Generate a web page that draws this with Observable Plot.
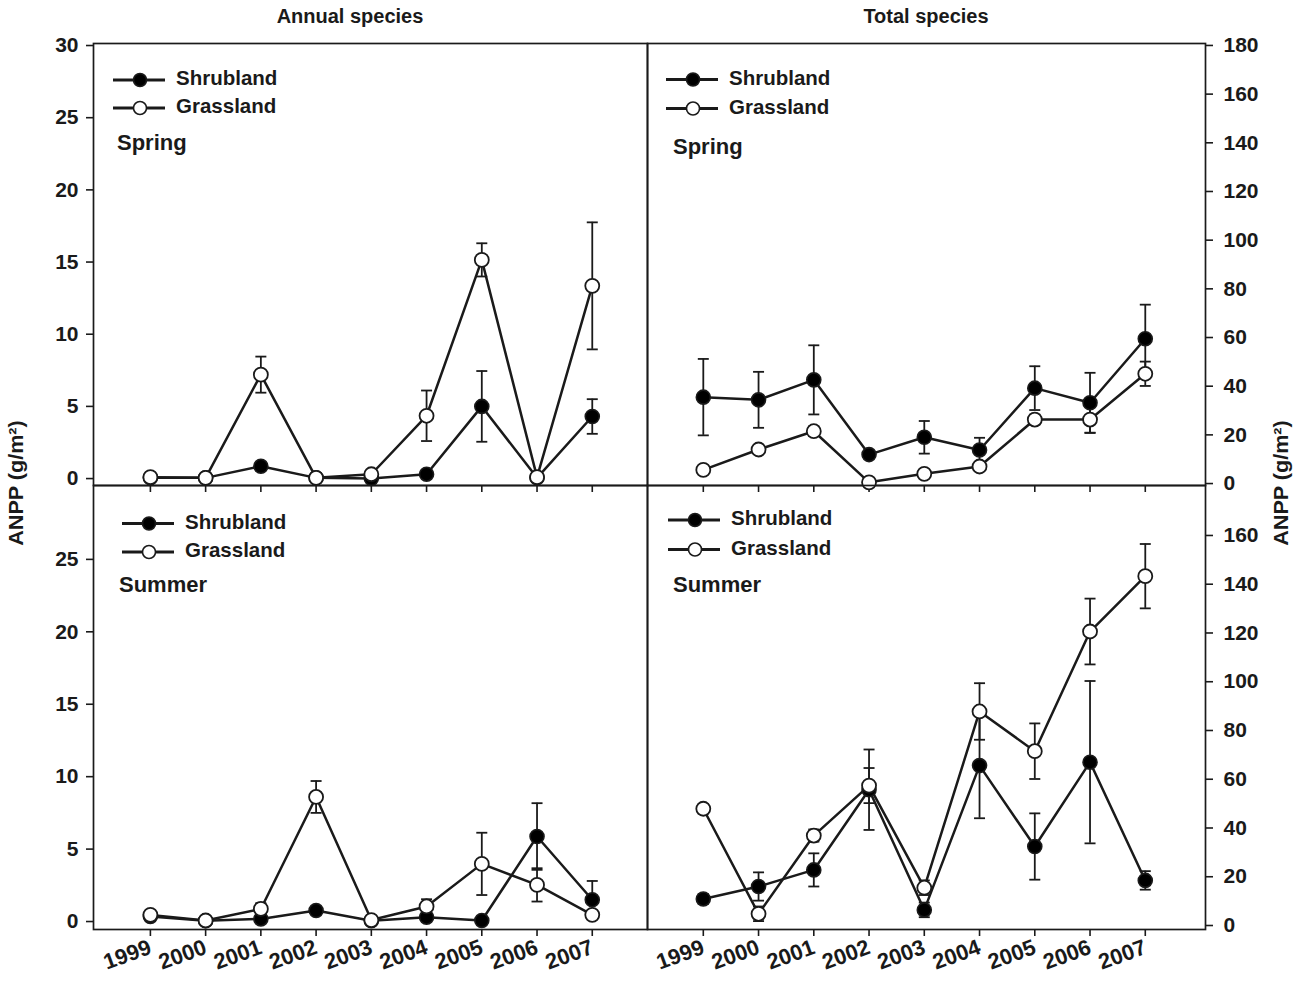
<!DOCTYPE html>
<html><head><meta charset="utf-8">
<script src="https://cdn.jsdelivr.net/npm/d3@7"></script>
<script src="https://cdn.jsdelivr.net/npm/@observablehq/plot@0.6"></script>
<style>
html,body{margin:0;padding:0;background:#fff;}
#chart{position:relative;width:1299px;height:983px;font-family:"Liberation Sans",Arial,sans-serif;color:#111;}
#chart svg{position:absolute;left:0;top:0;overflow:visible;background:transparent;}
</style></head><body><div id="chart"></div>
<script>
// ---------- data ----------
const years = [1999, 2000, 2001, 2002, 2003, 2004, 2005, 2006, 2007];

const annualSpringShrub    = [0.05, 0.05, 0.85, 0.05, 0.0, 0.3, 5.0, 0.05, 4.3];
const annualSpringShrubErr = [0, 0, 0.2, 0, 0, 0, 2.45, 0, 1.2];
const annualSpringGrass    = [0.1, 0.05, 7.2, 0.05, 0.3, 4.35, 15.15, 0.1, 13.35];
const annualSpringGrassErr = [0, 0, 1.25, 0, 0, 1.75, 1.15, 0, 4.4];

const totalSpringShrub    = [35.5, 34.4, 42.6, 11.9, 19.0, 13.8, 39.2, 33.2, 59.5];
const totalSpringShrubErr = [15.7, 11.5, 14.2, 1.5, 6.7, 5.0, 9.0, 12.3, 14.0];
const totalSpringGrass    = [5.6, 14.0, 21.5, 0.5, 4.0, 7.0, 26.3, 26.3, 45.1];
const totalSpringGrassErr = [0, 1.0, 2.0, 0, 0, 0, 2.0, 5.5, 5.0];

const annualSummerShrub    = [0.35, 0.05, 0.18, 0.76, 0.05, 0.3, 0.07, 5.87, 1.5];
const annualSummerShrubErr = [0, 0, 0, 0, 0, 0, 0, 2.3, 1.3];
const annualSummerGrass    = [0.46, 0.07, 0.87, 8.6, 0.1, 1.04, 3.98, 2.53, 0.46];
const annualSummerGrassErr = [0, 0, 0.4, 1.1, 0, 0.5, 2.15, 1.15, 0];

const totalSummerShrub    = [10.9, 16.0, 22.8, 55.7, 6.4, 65.6, 32.4, 67.0, 18.5];
const totalSummerShrubErr = [2.0, 5.8, 6.8, 16.5, 3.0, 21.6, 13.6, 33.3, 3.8];
const totalSummerGrass    = [47.9, 4.8, 36.9, 57.4, 15.5, 87.8, 71.5, 120.6, 143.3];
const totalSummerGrassErr = [2.0, 3.0, 2.5, 7.2, 3.0, 11.6, 11.4, 13.5, 13.2];

const columnTitles = ["Annual species", "Total species"];
const seasonLabels = ["Spring", "Summer"];
const seriesNames = ["Shrubland", "Grassland"];
const yAxisLabel = "ANPP (g/m²)";
const annualTicksTop = [0, 5, 10, 15, 20, 25, 30];
const annualTicksBottom = [0, 5, 10, 15, 20, 25];
const totalTicksTop = [0, 20, 40, 60, 80, 100, 120, 140, 160, 180];
const totalTicksBottom = [0, 20, 40, 60, 80, 100, 120, 140, 160];

// ---------- layout ----------
const W = 1299, H = 983;
const FONT = '"Liberation Sans", Arial, sans-serif';
const INK = "#1a1a1a";

const panels = [
  {shrub: annualSpringShrub, shrubErr: annualSpringShrubErr, grass: annualSpringGrass, grassErr: annualSpringGrassErr,
   box: [93, 43, 647, 485], xd: [1997.97, 2008], yd: [-0.48, 30.14], ticks: annualTicksTop, side: "left", xlabels: false,
   season: seasonLabels[0], leg: {x: 113, y1: 80, y2: 108, sx: 117, sy: 144}},
  {shrub: totalSpringShrub, shrubErr: totalSpringShrubErr, grass: totalSpringGrass, grassErr: totalSpringGrassErr,
   box: [647, 43, 1205, 485], xd: [1997.99, 2008.09], yd: [-0.8, 180.8], ticks: totalTicksTop, side: "right", xlabels: false,
   season: seasonLabels[0], leg: {x: 666, y1: 79.5, y2: 108.5, sx: 673, sy: 148}},
  {shrub: annualSummerShrub, shrubErr: annualSummerShrubErr, grass: annualSummerGrass, grassErr: annualSummerGrassErr,
   box: [93, 485, 647, 929], xd: [1997.97, 2008], yd: [-0.55, 30.1], ticks: annualTicksBottom, side: "left", xlabels: true,
   season: seasonLabels[1], leg: {x: 122, y1: 523.5, y2: 552, sx: 119, sy: 586}},
  {shrub: totalSummerShrub, shrubErr: totalSummerShrubErr, grass: totalSummerGrass, grassErr: totalSummerGrassErr,
   box: [647, 485, 1205, 929], xd: [1997.99, 2008.09], yd: [-1.64, 180.5], ticks: totalTicksBottom, side: "right", xlabels: true,
   season: seasonLabels[1], leg: {x: 668, y1: 520, y2: 549.5, sx: 673, sy: 586}}
];

const capSymbol = {
  draw(ctx, size) { const r = Math.sqrt(size / Math.PI); ctx.moveTo(-r, 0); ctx.lineTo(r, 0); }
};

const chart = document.getElementById("chart");

function rows(vals, errs) {
  return years.map((year, i) => ({year, v: vals[i], e: errs[i]}));
}

for (const p of panels) {
  const shrub = rows(p.shrub, p.shrubErr);
  const grass = rows(p.grass, p.grassErr);
  const errRows = shrub.concat(grass).filter(d => d.e > 0);
  const [l, t, r, b] = p.box;
  const marks = [
    Plot.frame({stroke: INK, strokeWidth: 1.7}),
    Plot.axisY({anchor: p.side, ticks: p.ticks, tickSize: 7, tickPadding: p.side === "left" ? 8 : 11,
      tickFormat: d => String(d), fontSize: 21, fontWeight: "bold", label: null, strokeWidth: 1.6, stroke: INK}),
    p.xlabels
      ? Plot.axisX({anchor: "bottom", ticks: years, tickSize: 7, tickPadding: 10, tickRotate: -20,
          tickFormat: d => String(d), fontSize: 22, fontWeight: "bold", label: null, strokeWidth: 1.6, stroke: INK})
      : Plot.axisX({anchor: "bottom", ticks: years, tickSize: 7, tickFormat: () => "", label: null, strokeWidth: 1.6, stroke: INK}),
    Plot.line(grass, {x: "year", y: "v", stroke: INK, strokeWidth: 2.5}),
    Plot.line(shrub, {x: "year", y: "v", stroke: INK, strokeWidth: 2.5}),
    Plot.ruleX(errRows, {x: "year", y1: d => d.v - d.e, y2: d => d.v + d.e, stroke: INK, strokeWidth: 1.8}),
    Plot.dot(errRows, {x: "year", y: d => d.v + d.e, symbol: capSymbol, r: 5.5, stroke: INK, strokeWidth: 1.8}),
    Plot.dot(errRows, {x: "year", y: d => d.v - d.e, symbol: capSymbol, r: 5.5, stroke: INK, strokeWidth: 1.8}),
    Plot.dot(shrub, {x: "year", y: "v", r: 7, fill: "#000", stroke: INK, strokeWidth: 1.6}),
    Plot.dot(grass, {x: "year", y: "v", r: 7, fill: "#fff", stroke: INK, strokeWidth: 1.8})
  ];
  const svg = Plot.plot({
    width: W, height: H,
    marginLeft: l, marginRight: W - r, marginTop: t, marginBottom: H - b,
    x: {domain: p.xd}, y: {domain: p.yd},
    style: {fontFamily: FONT, color: INK, background: "transparent", overflow: "visible"},
    marks
  });
  chart.appendChild(svg);
}

// ---------- overlay: titles, legends, axis labels ----------
const ov = d3.select(chart).append("svg").attr("width", W).attr("height", H)
  .style("font-family", FONT).attr("fill", INK);

ov.append("text").attr("x", 350).attr("y", 18).attr("text-anchor", "middle").attr("dominant-baseline", "middle")
  .attr("font-weight", "bold").attr("font-size", 20).text(columnTitles[0]);
ov.append("text").attr("x", 926).attr("y", 18).attr("text-anchor", "middle").attr("dominant-baseline", "middle")
  .attr("font-weight", "bold").attr("font-size", 20).text(columnTitles[1]);

ov.append("text").attr("transform", "translate(18,483) rotate(-90) scale(1.08,1)").attr("text-anchor", "middle")
  .attr("dominant-baseline", "middle").attr("font-weight", "bold").attr("font-size", 20).text(yAxisLabel);
ov.append("text").attr("transform", "translate(1283,483) rotate(-90) scale(1.08,1)").attr("text-anchor", "middle")
  .attr("dominant-baseline", "middle").attr("font-weight", "bold").attr("font-size", 20).text(yAxisLabel);

for (const p of panels) {
  const L = p.leg;
  [[L.y1, "#000", seriesNames[0]], [L.y2, "#fff", seriesNames[1]]].forEach(([y, fill, name]) => {
    ov.append("line").attr("x1", L.x).attr("x2", L.x + 52).attr("y1", y).attr("y2", y)
      .attr("stroke", INK).attr("stroke-width", 3);
    ov.append("circle").attr("cx", L.x + 27).attr("cy", y).attr("r", 6.5)
      .attr("fill", fill).attr("stroke", INK).attr("stroke-width", 1.6);
    ov.append("text").attr("x", L.x + 63).attr("y", y).attr("dominant-baseline", "middle")
      .attr("font-weight", "bold").attr("font-size", 20.5).text(name);
  });
  ov.append("text").attr("x", L.sx).attr("y", L.sy).attr("dominant-baseline", "middle")
    .attr("font-weight", "bold").attr("font-size", 22).text(p.season);
}
</script></body></html>
